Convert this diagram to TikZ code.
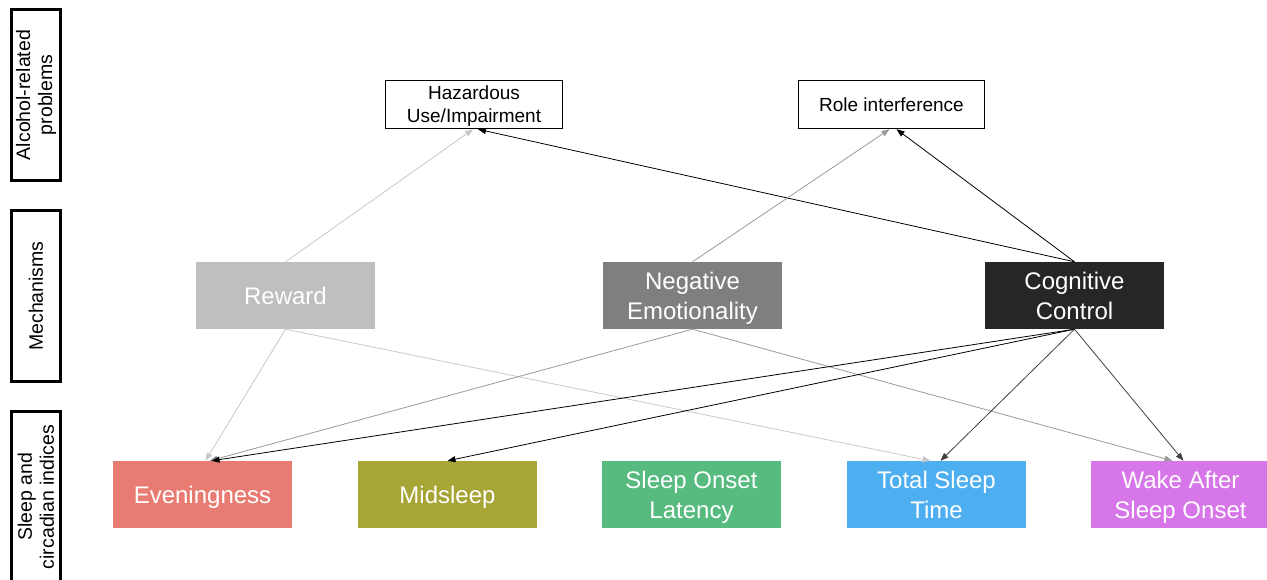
\documentclass[tikz,border=0pt]{standalone}
\usepackage{fontspec}
\setmainfont{Liberation Sans}
\usetikzlibrary{arrows.meta,positioning}
\definecolor{rwfill}{HTML}{BFBFBF}
\definecolor{nefill}{HTML}{7F7F7F}
\definecolor{ccfill}{HTML}{262626}
\definecolor{evfill}{HTML}{E97C72}
\definecolor{msfill}{HTML}{A6A536}
\definecolor{solfill}{HTML}{57BB80}
\definecolor{tstfill}{HTML}{4DAEF0}
\definecolor{wasofill}{HTML}{D676E8}
\definecolor{rwline}{HTML}{C8C8C8}
\definecolor{neline}{HTML}{9A9A9A}

\begin{document}
\begin{tikzpicture}[x=1pt, y=-1pt,
    side/.style={draw, line width=3pt, rotate=90, minimum width=171pt, minimum height=49pt, inner sep=0pt, align=center, font=\fontsize{19.5}{22}\selectfont},
    probbox/.style={draw, line width=1.5pt, minimum height=48pt, inner sep=0pt, text depth=0pt, align=center, font=\fontsize{19}{23}\selectfont},
    mech/.style={minimum width=179pt, minimum height=67pt, inner sep=0pt, text depth=0pt, text=white, align=center, font=\fontsize{24}{30}\selectfont},
    link/.style={-{Triangle[length=8pt, width=6pt]}, line width=0.8pt}
]
    \useasboundingbox (0,0) rectangle (1267,579);

    % Levels
    \node[side] (lvlprob) at (36,95) {Alcohol-related\\problems};
    \node[side] (lvlmech) at (36,296) {Mechanisms};
    \node[side] (lvlsleep) at (36,497) {Sleep and\\circadian indices};

    % Alcohol-related problems
    \node[probbox, minimum width=177pt] (hazard) at (474,104.5) {Hazardous\\Use/Impairment};
    \node[probbox, minimum width=186pt] (roleint) at (891.5,104.5) {Role interference};

    % Mechanisms
    \node[mech, fill=rwfill] (reward) at (285.5,295.5) {Reward};
    \node[mech, fill=nefill] (negemo) at (692.5,295.5) {Negative\\Emotionality};
    \node[mech, fill=ccfill] (cogctl) at (1074.5,295.5) {Cognitive\\Control};

    % Sleep and circadian indices
    \node[mech, fill=evfill] (evening) at (202.5,494.5) {Eveningness};
    \node[mech, fill=msfill] (midsleep) at (447.5,494.5) {Midsleep};
    \node[mech, fill=solfill] (onset) at (691.5,494.5) {Sleep Onset\\Latency};
    \node[mech, fill=tstfill] (totsleep) at (936.5,494.5) {Total Sleep\\Time};
    \node[mech, fill=wasofill] (waso) at (1180.5,494.5) {Wake After\\Sleep Onset};

    % Links to problems
    \draw[link, rwline] (reward.north) -- ([xshift=-1pt]hazard.south);
    \draw[link, black] (cogctl.north) -- ([xshift=4pt]hazard.south);
    \draw[link, neline] (negemo.north) -- ([xshift=-2pt]roleint.south);
    \draw[link, black] (cogctl.north) -- ([xshift=5pt]roleint.south);

    % Links to sleep indices
    \draw[link, rwline] (reward.south) -- ([xshift=3pt]evening.north);
    \draw[link, rwline] (reward.south) -- ([xshift=-6pt]totsleep.north);
    \draw[link, neline] (negemo.south) -- ([xshift=7pt]evening.north);
    \draw[link, neline] (negemo.south) -- ([xshift=-8pt]waso.north);
    \draw[link, black] (cogctl.south) -- ([xshift=9pt]evening.north);
    \draw[link, black] (cogctl.south) -- (midsleep.north);
    \draw[link, black!75] (cogctl.south) -- ([xshift=4pt]totsleep.north);
    \draw[link, black!75] (cogctl.south) -- ([xshift=3pt]waso.north);
\end{tikzpicture}
\end{document}
